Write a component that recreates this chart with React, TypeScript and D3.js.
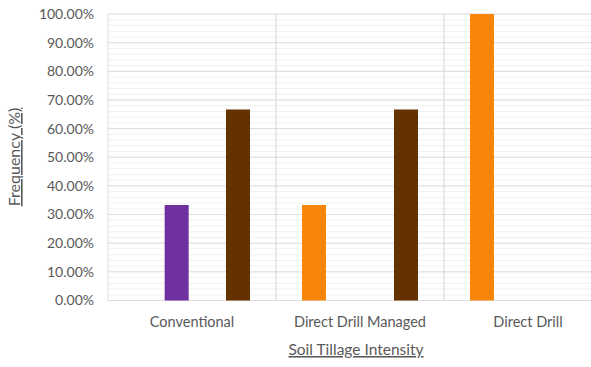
import React from "react";
import * as d3 from "d3";

const categories = ["Conventional", "Direct Drill Managed", "Direct Drill"];
const seriesNames = ["Series A", "Series B", "Series C", "Series D"];
const seriesColors = ["#F7860B", "#7030A0", "#A5A5A5", "#633200"];
const seriesA = [0, 0.3333, 1.0];
const seriesB = [0.3333, 0, 0];
const seriesC = [0, 0, 0];
const seriesD = [0.6667, 0.6667, 0];
const yTicks = [0, 0.1, 0.2, 0.3, 0.4, 0.5, 0.6, 0.7, 0.8, 0.9, 1.0];
const xTitle = "Soil Tillage Intensity";
const yTitle = "Frequency (%)";

const W = 591;
const H = 367;
const plot = { left: 108, right: 612, top: 14, bottom: 300.5 };
const FONT = "Lato, 'Open Sans', sans-serif";

export default function App() {
  const seriesValues = [seriesA, seriesB, seriesC, seriesD];
  const x = d3.scaleBand<string>().domain(categories).range([plot.left, plot.right]).padding(0);
  const xi = d3
    .scaleBand<string>()
    .domain(seriesNames)
    .range([0, x.bandwidth()])
    .paddingInner(0.217)
    .paddingOuter(0.847);
  const y = d3.scaleLinear().domain([0, 1]).range([plot.bottom, plot.top]);
  const minor = d3.range(0, 1.0001, 0.02);
  const fmt = (v: number) => (v * 100).toFixed(2) + "%";

  return (
    <svg
      width={W}
      height={H}
      style={{ position: "absolute", left: 0, top: 0, background: "#fff" }}
      fontFamily={FONT}
    >
      {minor.map((v, i) => (
        <line key={"m" + i} x1={plot.left} x2={plot.right} y1={y(v)} y2={y(v)} stroke="#f1f1f1" strokeWidth={1} />
      ))}
      {yTicks.map((v, i) => (
        <line key={"g" + i} x1={plot.left} x2={plot.right} y1={y(v)} y2={y(v)} stroke="#dedede" strokeWidth={1} />
      ))}
      <line x1={plot.left} x2={plot.left} y1={plot.top} y2={plot.bottom} stroke="#dedede" />
      {categories.slice(1).map((c) => (
        <line key={"v" + c} x1={x(c)!} x2={x(c)!} y1={plot.top} y2={plot.bottom} stroke="#d6d6d6" />
      ))}
      {seriesValues.map((vals, si) =>
        vals.map((v, ci) =>
          v > 0 ? (
            <rect
              key={si + "-" + ci}
              x={x(categories[ci])! + xi(seriesNames[si])!}
              y={y(v)}
              width={xi.bandwidth()}
              height={y(0) - y(v)}
              fill={seriesColors[si]}
            />
          ) : null
        )
      )}
      {yTicks.map((v, i) => (
        <text key={"t" + i} x={94} y={y(v)} dy="0.35em" textAnchor="end" fontSize={14} fill="#595959">
          {fmt(v)}
        </text>
      ))}
      {categories.map((c) => (
        <text key={"c" + c} x={x(c)! + x.bandwidth() / 2} y={327} textAnchor="middle" fontSize={14.5} fill="#595959">
          {c}
        </text>
      ))}
      <text x={356} y={355} textAnchor="middle" fontSize={15.5} fill="#595959" textDecoration="underline">
        {xTitle}
      </text>
      <text
        transform={`translate(20, ${157}) rotate(-90)`}
        textAnchor="middle"
        fontSize={16}
        fill="#595959"
        textDecoration="underline"
      >
        {yTitle}
      </text>
    </svg>
  );
}
